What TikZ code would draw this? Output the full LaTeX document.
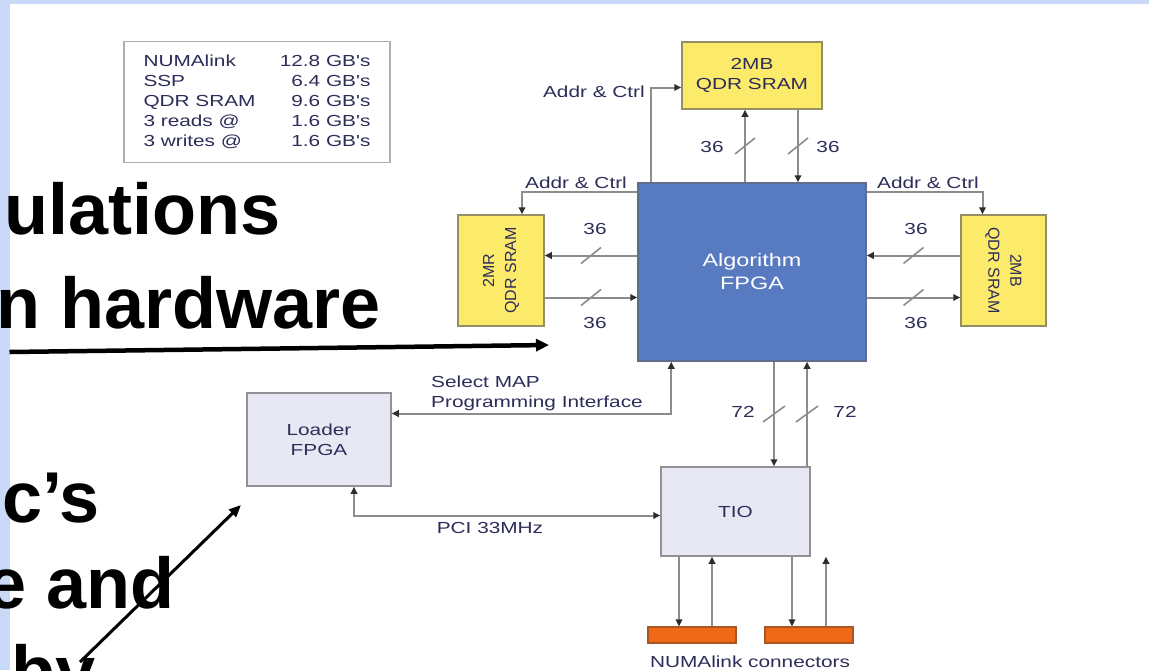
\documentclass[tikz,border=0pt]{standalone}
\usepackage{fontspec}
\setmainfont{Liberation Sans}
\newfontfamily\diag[FakeStretch=1.3]{Liberation Sans}
\usetikzlibrary{arrows.meta,calc}
\definecolor{stripblue}{RGB}{201,218,248}
\definecolor{fpgablue}{RGB}{88,122,192}
\definecolor{fpgaedge}{RGB}{95,108,140}
\definecolor{sramyellow}{RGB}{252,234,106}
\definecolor{sramedge}{RGB}{150,142,100}
\definecolor{iolav}{RGB}{232,232,245}
\definecolor{boxedge}{RGB}{145,145,150}
\definecolor{connorange}{RGB}{238,104,22}
\definecolor{conedge}{RGB}{170,85,35}
\definecolor{linegray}{RGB}{140,140,140}
\definecolor{tipdark}{RGB}{45,45,45}
\definecolor{labelnavy}{RGB}{45,45,90}
\definecolor{legedge}{RGB}{175,175,175}
\begin{document}
\begin{tikzpicture}[x=1pt,y=-1pt,
  >={Triangle[length=7pt,width=6.5pt,color=tipdark]},
  conn/.style={draw=linegray,line width=2pt},
  slashmark/.style={draw=linegray,line width=1.6pt},
  lbl/.style={font=\diag\fontsize{16}{20}\selectfont,text=labelnavy,inner sep=0pt},
  rlbl/.style={font=\fontsize{16}{22}\selectfont,text=labelnavy,inner sep=0pt,align=center},
  sram/.style={draw=sramedge,line width=1.5pt,fill=sramyellow,inner sep=0pt},
  iobox/.style={draw=boxedge,line width=1.5pt,fill=iolav,inner sep=0pt,font=\diag\fontsize{16}{20}\selectfont,text=labelnavy,align=center},
  fpgabox/.style={draw=fpgaedge,line width=1.5pt,fill=fpgablue,inner sep=0pt,font=\diag\fontsize{18}{23}\selectfont,text=white,align=center},
  conbox/.style={draw=conedge,line width=1.2pt,fill=connorange,inner sep=0pt,minimum width=88pt,minimum height=16pt},
  bigtext/.style={font=\bfseries\fontsize{72}{80}\selectfont,inner sep=0pt,anchor=base east},
  bigarrow/.style={draw=black,line width=4.5pt,-{Triangle[length=13pt,width=12pt]}},
  bigarrowb/.style={draw=black,line width=3pt,-{Triangle[length=12pt,width=10pt]}}
]
\useasboundingbox (0,0) rectangle (1149,670);
\clip (0,0) rectangle (1149,670);
\fill[white] (0,0) rectangle (1149,670);
\fill[stripblue] (0,0) rectangle (1149,4);
\fill[stripblue] (0,0) rectangle (9.5,670);

% legend
\node[draw=legedge,line width=1.2pt,minimum width=266pt,minimum height=121pt,inner sep=0pt,font=\diag\fontsize{16}{20}\selectfont,text=labelnavy] (leg) at (257,102)
 {\begin{tabular*}{227pt}{@{}l@{\extracolsep{\fill}}r@{}}
 NUMAlink & 12.8 GB's\\
 SSP & 6.4 GB's\\
 QDR SRAM & 9.6 GB's\\
 3 reads @ & 1.6 GB's\\
 3 writes @ & 1.6 GB's
 \end{tabular*}};

% boxes
\node[fpgabox,minimum width=228pt,minimum height=178pt] (fpga) at (752,272) {Algorithm\\FPGA};
\node[sram,minimum width=140pt,minimum height=67pt,font=\diag\fontsize{16}{20}\selectfont,text=labelnavy,align=center] (tsram) at (752,75.5) {2MB\\QDR SRAM};
\node[sram,minimum width=86pt,minimum height=111pt] (lsram) at (501,270.5) {};
\node[rlbl,rotate=90] (lsramtext) at (lsram.center) {2MR\\QDR SRAM};
\node[sram,minimum width=85pt,minimum height=111pt] (rsram) at (1003.5,270.5) {};
\node[rlbl,rotate=-90] (rsramtext) at (rsram.center) {2MB\\QDR SRAM};
\node[iobox,minimum width=144pt,minimum height=93pt] (loader) at (319,439.5) {Loader\\FPGA};
\node[iobox,minimum width=149pt,minimum height=89pt] (tio) at (735.5,511.5) {TIO};
\node[conbox] (c1) at (692,635) {};
\node[conbox] (c2) at (809,635) {};

% top addr & ctrl
\draw[conn,->] ([xshift=14pt]fpga.north west) |- ([yshift=-12pt]tsram.west);
\node[lbl,anchor=east] (addrtop) at (645,92) {Addr \& Ctrl};
% top 36
\draw[conn,->] ([xshift=-7pt]tsram.south |- fpga.north) -- coordinate (s1) ([xshift=-7pt]tsram.south);
\draw[slashmark] ([shift={(-10,8)}]s1) -- ([shift={(10,-8)}]s1);
\node[lbl] (n36a) at (712,147) {36};
\draw[conn,->] ([xshift=46pt]tsram.south) -- coordinate (s2) ([xshift=46pt]tsram.south |- fpga.north);
\draw[slashmark] ([shift={(-10,8)}]s2) -- ([shift={(10,-8)}]s2);
\node[lbl] (n36b) at (828,147) {36};

% left / right addr & ctrl
\draw[conn,->] ([yshift=-10pt]fpga.north west) -| ([xshift=21pt]lsram.north);
\node[lbl] (addrl) at (576,183) {Addr \& Ctrl};
\draw[conn,->] ([yshift=-10pt]fpga.north east) -| ([xshift=-21pt]rsram.north);
\node[lbl] (addrr) at (928,183) {Addr \& Ctrl};

% left 36s
\draw[conn,->] ([yshift=15pt]lsram.east -| fpga.west) -- coordinate (s3) ([yshift=15pt]lsram.east);
\draw[slashmark] ([shift={(-10,8)}]s3) -- ([shift={(10,-8)}]s3);
\draw[conn,->] ([yshift=-27pt]lsram.east) -- coordinate (s4) ([yshift=-27pt]lsram.east -| fpga.west);
\draw[slashmark] ([shift={(-10,8)}]s4) -- ([shift={(10,-8)}]s4);
\node[lbl] (n36c) at (595,229) {36};
\node[lbl] (n36d) at (595,323) {36};

% right 36s
\draw[conn,->] ([yshift=15pt]rsram.west) -- coordinate (s5) ([yshift=15pt]rsram.west -| fpga.east);
\draw[slashmark] ([shift={(-10,8)}]s5) -- ([shift={(10,-8)}]s5);
\draw[conn,->] ([yshift=-27pt]rsram.west -| fpga.east) -- coordinate (s6) ([yshift=-27pt]rsram.west);
\draw[slashmark] ([shift={(-10,8)}]s6) -- ([shift={(10,-8)}]s6);
\node[lbl] (n36e) at (916,229) {36};
\node[lbl] (n36f) at (916,323) {36};

% select map
\draw[conn,<->] ([xshift=34pt]fpga.south west) |- ([yshift=26pt]loader.east);
\node[lbl,anchor=west,align=left] (selmap) at (431,393) {Select MAP\\Programming Interface};

% PCI
\draw[conn,<->] ([xshift=35pt]loader.south) |- ([yshift=-4pt]tio.west);
\node[lbl] (pci) at (490,528) {PCI 33MHz};

% 72
\draw[conn,->] ([xshift=22pt]fpga.south) -- coordinate (s7) ([xshift=22pt]fpga.south |- tio.north);
\draw[slashmark] ([shift={(-11,8)}]s7) -- ([shift={(11,-8)}]s7);
\draw[conn,->] ([xshift=55pt]fpga.south |- tio.north) -- coordinate (s8) ([xshift=55pt]fpga.south);
\draw[slashmark] ([shift={(-11,8)}]s8) -- ([shift={(11,-8)}]s8);
\node[lbl] (n72a) at (743,412) {72};
\node[lbl] (n72b) at (845,412) {72};

% bottom
\draw[conn,->] ([xshift=-13pt]c1.north |- tio.south) -- ([xshift=-13pt]c1.north);
\draw[conn,->] ([xshift=20pt]c1.north) -- ([xshift=20pt]c1.north |- tio.south);
\draw[conn,->] ([xshift=-17pt]c2.north |- tio.south) -- ([xshift=-17pt]c2.north);
\draw[conn,->] ([xshift=17pt]c2.north) -- ([xshift=17pt]c2.north |- tio.south);
\node[lbl] (numa) at (750,662) {NUMAlink connectors};

% slide text
\node[bigtext] (t1) at (281,234) {ulations};
\node[bigtext] (t2) at (381,328) {n hardware};
\node[bigtext] (t3) at (100,522) {c’s};
\node[bigtext] (t4) at (175,608) {e and};
\node[bigtext] (t5) at (96,696) {by};

% slide arrows
\coordinate (a1s) at (9.5,352);
\coordinate (a1e) at (549,345);
\draw[bigarrow] (a1s) -- (a1e);
\coordinate (a2s) at (80,662);
\coordinate (a2e) at (241,505);
\draw[bigarrowb] (a2s) -- (a2e);
\end{tikzpicture}
\end{document}
